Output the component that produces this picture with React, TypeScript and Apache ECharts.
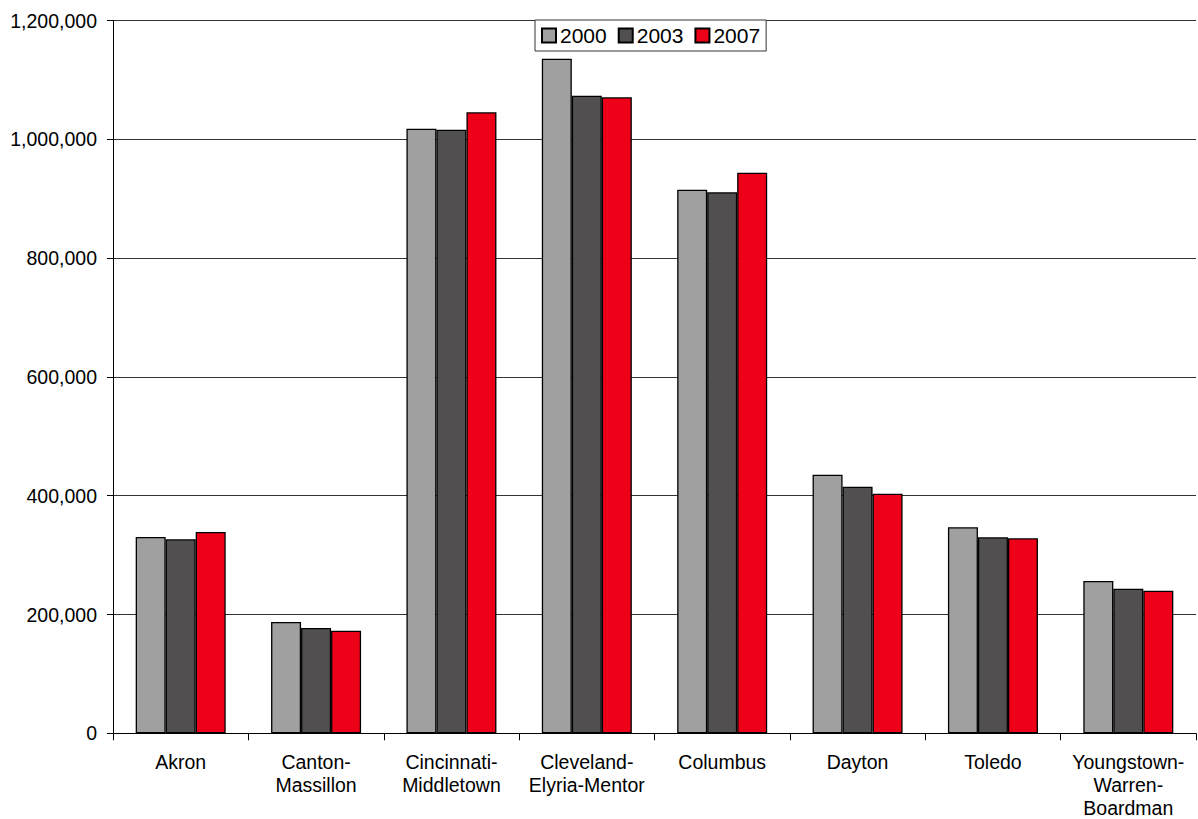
import React, { useEffect, useRef } from "react";
import * as echarts from "echarts";

const categories = [
  "Akron",
  "Canton-\nMassillon",
  "Cincinnati-\nMiddletown",
  "Cleveland-\nElyria-Mentor",
  "Columbus",
  "Dayton",
  "Toledo",
  "Youngstown-\nWarren-\nBoardman",
];
const values2000 = [330500, 187400, 1017800, 1135700, 915000, 435400, 346800, 256400];
const values2003 = [326600, 177300, 1016000, 1073400, 910800, 415200, 330000, 243500];
const values2007 = [338900, 172800, 1045500, 1070700, 943800, 403400, 328300, 240000];
const seriesNames = ["2000", "2003", "2007"];
const colors = ["#A0A0A0", "#524F50", "#EE0019"];

export default function App() {
  const ref = useRef<HTMLDivElement>(null);
  useEffect(() => {
    if (!ref.current) return;
    const chart = echarts.init(ref.current, null, { renderer: "svg" });
    const font = "'Liberation Sans', Arial, sans-serif";
    const data = [values2000, values2003, values2007];
    chart.setOption({
      animation: false,
      backgroundColor: "#ffffff",
      textStyle: { fontFamily: font },
      grid: {
        left: 113,
        right: 2,
        top: 20.5,
        bottom: 85.7,
        containLabel: false,
        outerBoundsMode: "none",
      },
      legend: {
        data: seriesNames,
        left: 535,
        top: 20,
        orient: "horizontal",
        padding: [5, 6, 5, 6],
        itemGap: 11,
        itemWidth: 14,
        itemHeight: 14,
        icon: "rect",
        borderColor: "#333",
        borderWidth: 1,
        backgroundColor: "#fff",
        textStyle: { fontFamily: font, fontSize: 21, color: "#000", padding: [0, 0, 0, -1] },
      },
      xAxis: {
        type: "category",
        data: categories,
        boundaryGap: true,
        axisLine: { show: true, lineStyle: { color: "#000", width: 1 } },
        axisTick: { show: true, length: 7, alignWithLabel: false, interval: 0, lineStyle: { color: "#000" } },
        axisLabel: {
          interval: 0,
          margin: 17,
          fontSize: 19.5,
          lineHeight: 23,
          color: "#000",
          fontFamily: font,
          align: "center",
        },
        splitLine: { show: false },
      },
      yAxis: {
        type: "value",
        min: 0,
        max: 1200000,
        interval: 200000,
        axisLine: { show: true, lineStyle: { color: "#000", width: 1 } },
        axisTick: { show: true, length: 6, lineStyle: { color: "#000" } },
        axisLabel: {
          margin: 16,
          fontSize: 19.5,
          color: "#000",
          fontFamily: font,
          formatter: (v: number) => v.toLocaleString("en-US"),
        },
        splitLine: { show: true, lineStyle: { color: "#333", width: 1 } },
      },
      series: seriesNames.map((name, i) => ({
        name,
        type: "bar",
        data: data[i],
        barWidth: 30,
        barGap: "0%",
        itemStyle: { color: colors[i], borderColor: "#000", borderWidth: 1.3 },
      })),
    });
    return () => chart.dispose();
  }, []);
  return (
    <div
      ref={ref}
      style={{ position: "fixed", left: 0, top: 0, width: 1198, height: 819 }}
    />
  );
}
